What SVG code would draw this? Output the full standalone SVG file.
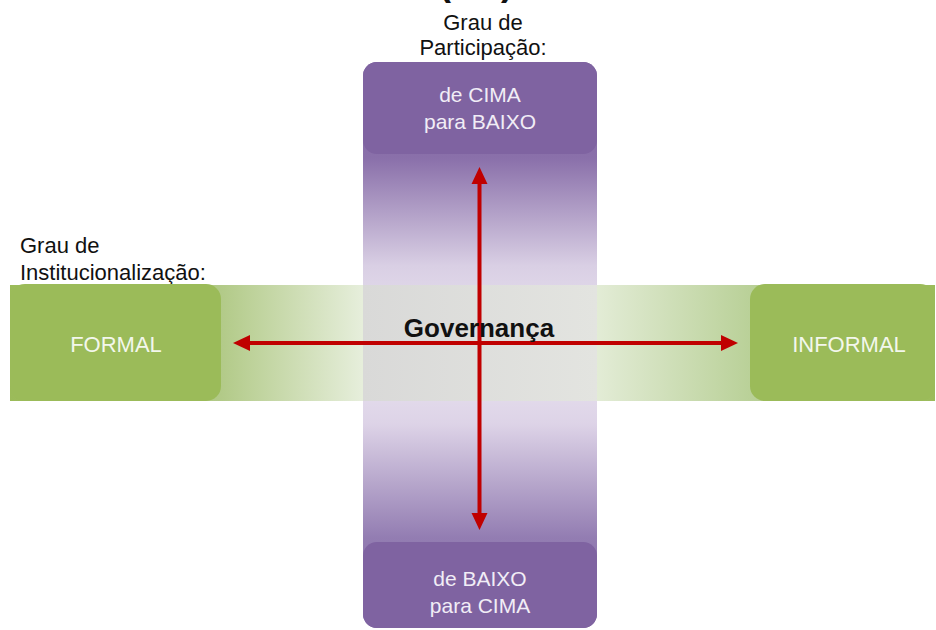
<svg xmlns="http://www.w3.org/2000/svg" width="936" height="630" viewBox="0 0 936 630">
  <defs>
    <style>
      .lbl { font-family: "Liberation Sans", Arial, sans-serif; font-size: 22px; fill: #111111; }
      .box-txt { font-family: "Liberation Sans", Arial, sans-serif; font-size: 21px; text-anchor: middle; }
      .purple-txt { fill: #f1edf6; }
      .green-txt { fill: #f3f7ec; font-size: 22px; }
      .purple-box { fill: #7f63a1; }
      .green-box { fill: #9bbb59; }
      .axis { stroke: #c00000; stroke-width: 4; fill: none; marker-start: url(#head); marker-end: url(#head); }
    </style>
    <!-- vertical participation band: purple at both ends, pale in the middle -->
    <linearGradient id="vband" x1="0" y1="62" x2="0" y2="628" gradientUnits="userSpaceOnUse">
      <stop offset="0" stop-color="#7f63a1"/>
      <stop offset="0.17" stop-color="#8a70aa"/>
      <stop offset="0.36" stop-color="#d9cfe4"/>
      <stop offset="0.5" stop-color="#ece7f2"/>
      <stop offset="0.64" stop-color="#ddd3e7"/>
      <stop offset="0.84" stop-color="#937db2"/>
      <stop offset="1" stop-color="#7f63a1"/>
    </linearGradient>
    <!-- horizontal institutionalisation band: green at both ends, pale in the middle -->
    <linearGradient id="hband" x1="10" y1="0" x2="936" y2="0" gradientUnits="userSpaceOnUse">
      <stop offset="0" stop-color="#9bbb59"/>
      <stop offset="0.228" stop-color="#b2ca88"/>
      <stop offset="0.38" stop-color="#e6eedb"/>
      <stop offset="0.62" stop-color="#e6eedb"/>
      <stop offset="0.797" stop-color="#bad199"/>
      <stop offset="1" stop-color="#9bbb59"/>
    </linearGradient>
    <linearGradient id="overlap" x1="363" y1="0" x2="597" y2="0" gradientUnits="userSpaceOnUse">
      <stop offset="0" stop-color="#d9d9d8"/>
      <stop offset="1" stop-color="#e3e4e0"/>
    </linearGradient>
    <marker id="head" markerUnits="userSpaceOnUse" markerWidth="20" markerHeight="20" viewBox="-1 -10 20 20" refX="0" refY="0" orient="auto-start-reverse">
      <path d="M0,-8 L17,0 L0,8 Z" fill="#c00000"/>
    </marker>
  </defs>

  <rect width="936" height="630" fill="#ffffff"/>

  <!-- heading, mostly above the frame -->
  <text x="476" y="-5" text-anchor="middle" font-family="Liberation Sans, Arial, sans-serif" font-weight="bold" font-size="36" fill="#111111">( ... )</text>

  <!-- axis labels -->
  <g id="label-participacao">
    <text class="lbl" x="483" y="30" text-anchor="middle">Grau de</text>
    <text class="lbl" x="483" y="55" text-anchor="middle">Participação:</text>
  </g>
  <g id="label-institucionalizacao">
    <text class="lbl" x="20" y="253">Grau de</text>
    <text class="lbl" x="20" y="280">Institucionalização:</text>
  </g>

  <!-- background bands -->
  <g id="bands">
    <rect x="10" y="285" width="925" height="116" fill="url(#hband)"/>
    <rect x="363" y="62" width="234" height="566" rx="14" fill="url(#vband)"/>
    <rect x="363" y="285" width="234" height="116" fill="url(#overlap)"/>
  </g>

  <g id="node-cima-baixo">
    <rect class="purple-box" x="363" y="62" width="234" height="92" rx="14"/>
    <text class="box-txt purple-txt" x="480" y="102">de CIMA</text>
    <text class="box-txt purple-txt" x="480" y="129">para BAIXO</text>
  </g>

  <g id="node-baixo-cima">
    <rect class="purple-box" x="363" y="542" width="234" height="86" rx="14"/>
    <text class="box-txt purple-txt" x="480" y="586">de BAIXO</text>
    <text class="box-txt purple-txt" x="480" y="613">para CIMA</text>
  </g>

  <g id="node-formal">
    <rect class="green-box" x="10" y="284" width="211" height="117" rx="15"/>
    <text class="box-txt green-txt" x="116" y="352">FORMAL</text>
  </g>

  <g id="node-informal">
    <rect class="green-box" x="750" y="284" width="185" height="117" rx="15"/>
    <text class="box-txt green-txt" x="849" y="352">INFORMAL</text>
  </g>

  <g id="connectors">
    <line class="axis" x1="250" y1="343" x2="721" y2="343"/>
    <line class="axis" x1="479.5" y1="184" x2="479.5" y2="513"/>
  </g>

  <g id="node-governanca">
    <text x="479" y="337" text-anchor="middle" font-family="Liberation Sans, Arial, sans-serif" font-weight="bold" font-size="26" fill="#111111">Governança</text>
  </g>
</svg>
